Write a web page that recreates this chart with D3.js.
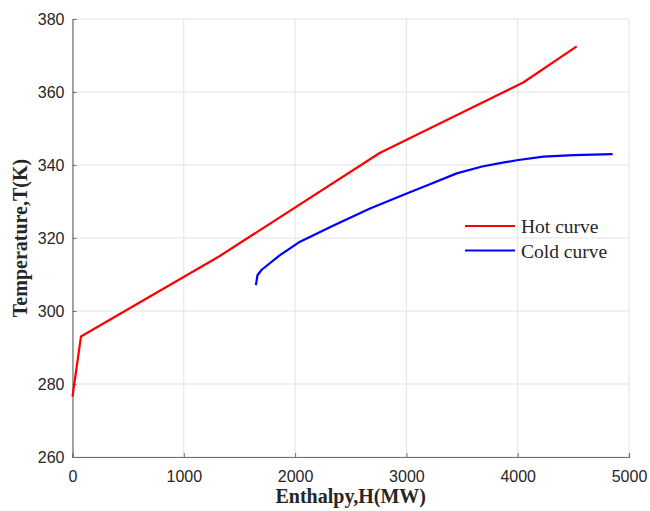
<!DOCTYPE html>
<html><head><meta charset="utf-8">
<script src="https://cdn.jsdelivr.net/npm/d3@7"></script>
<style>body{margin:0;background:#fff}svg{display:block}</style>
</head><body>
<script>
const hotH = [0, 76, 1320, 2760, 4050, 4530];
const hotT = [276.5, 293, 315, 343.3, 362.6, 372.5];
const coldH = [1648, 1662, 1700, 1864, 2044, 2350, 2673, 3003, 3200, 3452, 3680, 3841, 3991, 4230, 4500, 4853];
const coldT = [307.1, 309.8, 311.3, 315.3, 319.0, 323.5, 328.1, 332.2, 334.6, 337.7, 339.6, 340.5, 341.3, 342.3, 342.7, 343.0];
const xTicks = [0, 1000, 2000, 3000, 4000, 5000];
const yTicks = [260, 280, 300, 320, 340, 360, 380];
const seriesNames = ["Hot curve", "Cold curve"];
const seriesColors = ["#ff0000", "#0000ff"];

const W = 650, H = 511;
const m = {left: 72.5, right: 21, top: 19, bottom: 54};
const svg = d3.select("body").append("svg").attr("width", W).attr("height", H);
const x = d3.scaleLinear().domain([0, 5000]).range([m.left, W - m.right]);
const y = d3.scaleLinear().domain([260, 380]).range([H - m.bottom, m.top]);

// grid
svg.append("g").selectAll("line").data(xTicks).join("line")
  .attr("x1", d => x(d)).attr("x2", d => x(d)).attr("y1", y(260)).attr("y2", y(380))
  .attr("stroke", "#e3e3e3").attr("stroke-width", 1);
svg.append("g").selectAll("line").data(yTicks).join("line")
  .attr("x1", x(0)).attr("x2", x(5000)).attr("y1", d => y(d)).attr("y2", d => y(d))
  .attr("stroke", "#e3e3e3").attr("stroke-width", 1);

// axes
const xAxis = d3.axisBottom(x).tickValues(xTicks).tickSize(-4).tickPadding(10).tickFormat(d3.format("d"));
const yAxis = d3.axisLeft(y).tickValues(yTicks).tickSize(-4).tickPadding(8).tickFormat(d3.format("d"));
const gx = svg.append("g").attr("transform", `translate(0,${y(260)})`).call(xAxis);
const gy = svg.append("g").attr("transform", `translate(${x(0)},0)`).call(yAxis);
[gx, gy].forEach(g => {
  g.select(".domain").attr("stroke", "#707070").attr("stroke-width", 1.2);
  g.selectAll(".tick line").attr("stroke", "#707070");
  g.selectAll(".tick text").attr("fill", "#262626").style("font-family", "'Liberation Sans', Arial, sans-serif").style("font-size", "16px");
});
gx.selectAll(".tick text").attr("dy", "0.95em");

// titles
svg.append("text").attr("x", (x(0) + x(5000)) / 2).attr("y", 503)
  .attr("text-anchor", "middle").attr("fill", "#262626")
  .style("font-family", "'Liberation Serif', 'Times New Roman', serif").style("font-weight", "bold").style("font-size", "20px")
  .text("Enthalpy,H(MW)");
svg.append("text").attr("transform", `translate(27,${(y(260) + y(380)) / 2}) rotate(-90)`)
  .attr("text-anchor", "middle").attr("fill", "#262626")
  .style("font-family", "'Liberation Serif', 'Times New Roman', serif").style("font-weight", "bold").style("font-size", "20px")
  .text("Temperature,T(K)");

// lines
const line = d3.line().x(d => x(d[0])).y(d => y(d[1]));
const hot = hotH.map((h, i) => [h, hotT[i]]);
const cold = coldH.map((h, i) => [h, coldT[i]]);
[hot, cold].forEach((s, i) => {
  svg.append("path").datum(s).attr("d", line).attr("fill", "none")
    .attr("stroke", seriesColors[i]).attr("stroke-width", 2.2).attr("stroke-linejoin", "round");
});

// legend
const lg = svg.append("g");
seriesNames.forEach((n, i) => {
  const yy = 226 + i * 24.5;
  lg.append("line").attr("x1", 465).attr("x2", 515).attr("y1", yy).attr("y2", yy)
    .attr("stroke", seriesColors[i]).attr("stroke-width", 2.2);
  lg.append("text").attr("x", 521).attr("y", yy + 7).attr("fill", "#262626")
    .style("font-family", "'Liberation Serif', 'Times New Roman', serif").style("font-size", "19.5px")
    .text(n);
});
</script>
</body></html>
